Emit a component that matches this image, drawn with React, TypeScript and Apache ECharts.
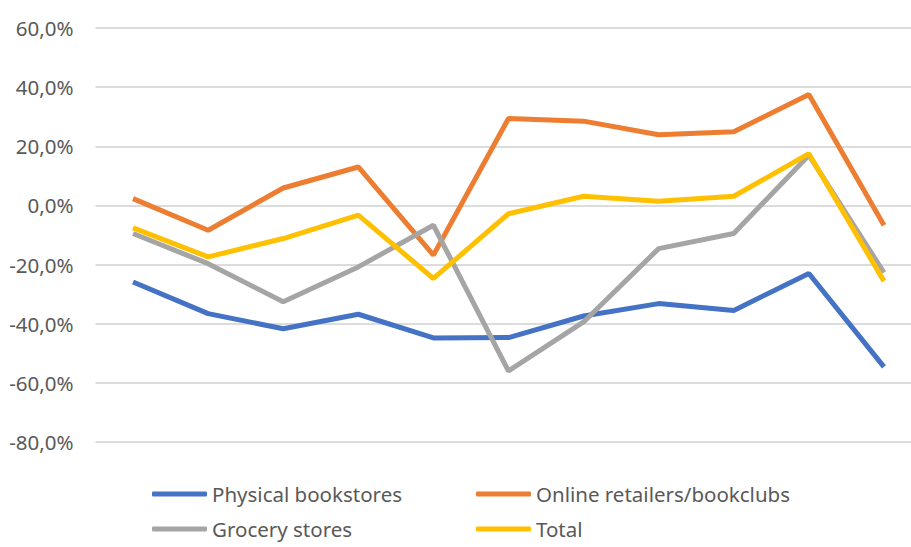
import React, { useEffect, useRef } from "react";
import * as echarts from "echarts";

const categories = ["1", "2", "3", "4", "5", "6", "7", "8", "9", "10", "11"];
const physical = [-25.9, -36.6, -41.7, -36.8, -44.8, -44.7, -37.4, -33.2, -35.5, -23.0, -54.6];
const online = [2.3, -8.4, 5.9, 13.0, -16.8, 29.4, 28.5, 23.9, 24.9, 37.5, -6.7];
const grocery = [-9.5, -19.7, -32.6, -20.8, -6.7, -56.0, -39.4, -14.6, -9.5, 17.0, -22.7];
const total = [-7.6, -17.4, -11.2, -3.3, -24.7, -2.8, 3.1, 1.4, 3.1, 17.5, -25.6];

const seriesNames = ["Physical bookstores", "Online retailers/bookclubs", "Grocery stores", "Total"];
const seriesColors = ["#4472C4", "#ED7D31", "#A5A5A5", "#FFC000"];
const seriesData = [physical, online, grocery, total];

const legendPos = [
  { left: 152, top: 483 },
  { left: 476, top: 483 },
  { left: 152, top: 518 },
  { left: 476, top: 518 },
];

export default function App() {
  const ref = useRef<HTMLDivElement>(null);
  useEffect(() => {
    if (!ref.current) return;
    const chart = echarts.init(ref.current, null, { renderer: "svg" });
    chart.setOption({
      animation: false,
      backgroundColor: "#ffffff",
      grid: { left: 95.5, right: 8.5, top: 28, bottom: 105, containLabel: false },
      xAxis: {
        type: "category",
        data: categories,
        boundaryGap: true,
        axisLine: { show: false },
        axisTick: { show: false },
        axisLabel: { show: false },
        splitLine: { show: false },
      },
      yAxis: {
        type: "value",
        min: -80,
        max: 60,
        interval: 20,
        axisLine: { show: false },
        axisTick: { show: false },
        axisLabel: {
          margin: 22,
          color: "#595959",
          fontFamily: "Noto Sans",
          fontSize: 20.5,
          formatter: (v: number) => v.toFixed(1).replace(".", ",") + "%",
        },
        splitLine: { lineStyle: { color: "#D0D0D0", width: 1.6 } },
      },
      legend: seriesNames.map((n, i) => ({
        data: [n],
        left: legendPos[i].left,
        top: legendPos[i].top,
        icon: "roundRect",
        itemWidth: 55,
        itemHeight: 5,
        padding: 0,
        textStyle: {
          color: "#595959",
          fontFamily: "Noto Sans",
          fontSize: 20.5,
          lineHeight: 22,
          padding: [0, 0, 0, 0],
        },
      })),
      series: seriesNames.map((n, i) => ({
        name: n,
        type: "line",
        data: seriesData[i],
        symbol: "none",
        lineStyle: { color: seriesColors[i], width: 5 },
        itemStyle: { color: seriesColors[i] },
      })),
    });
    return () => chart.dispose();
  }, []);
  return (
    <div
      style={{
        position: "absolute",
        left: 0,
        top: 0,
        width: 911,
        height: 547,
        overflow: "hidden",
        background: "#ffffff",
      }}
    >
      <div ref={ref} style={{ width: 930, height: 547 }} />
    </div>
  );
}
